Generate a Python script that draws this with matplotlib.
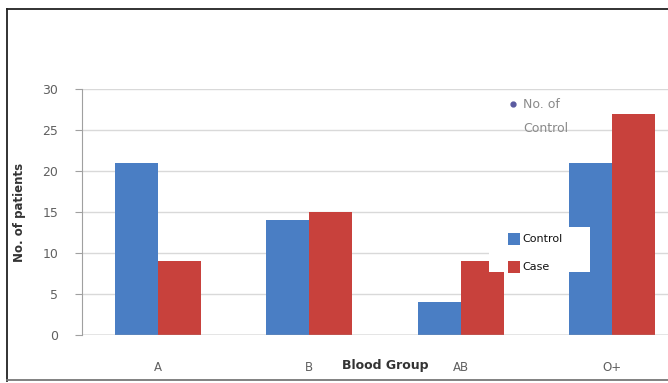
import matplotlib
matplotlib.use("Agg")
import matplotlib.pyplot as plt
import numpy as np
from matplotlib.lines import Line2D
from matplotlib.patches import Rectangle

groups = ["A", "B", "AB", "O+"]
control = [21, 14, 4, 21]
case = [9, 15, 9, 27]
yticks = [0, 5, 10, 15, 20, 25, 30]

BLUE = "#4A7EC4"
RED = "#C8413C"

W, H = 668, 383
fig = plt.figure(figsize=(W / 100, H / 100), dpi=100)
fig.patch.set_facecolor("white")


def fx(px):
    return px / W


def fy(py):
    return 1 - py / H


ax = fig.add_axes([fx(82), fy(335), (688 - 82) / W, (335 - 89) / H])
x = np.arange(len(groups))
bw = 0.285
ax.bar(x - bw / 2, control, bw, color=BLUE, label="Control", zorder=3)
ax.bar(x + bw / 2, case, bw, color=RED, label="Case", zorder=3)

ax.set_xlim(-0.5, 3.5)
ax.set_ylim(0, 30)
ax.set_yticks(yticks)
ax.yaxis.grid(True, color="#d9d9d9", linewidth=1.0, zorder=0)
for s in ["top", "right", "bottom"]:
    ax.spines[s].set_visible(False)
ax.spines["left"].set_color("#a0a0a0")
ax.axhline(0, color="#a0a0a0", linewidth=1.0, zorder=4)
ax.tick_params(axis="y", colors="#a0a0a0", labelcolor="#606060", labelsize=9, length=5, pad=12)
ax.tick_params(axis="x", length=0, labelcolor="#606060", labelsize=8.5, pad=19)
ax.set_xticks(x)
ax.set_xticklabels(groups)

ax.set_ylabel("No. of patients", fontsize=8.5, fontweight="bold", color="#333333", labelpad=12)
fig.text(fx(385), fy(366), "Blood Group", ha="center", va="center",
         fontsize=9, fontweight="bold", color="#333333")

# faint stray series label
fig.text(fx(523), fy(104), "No. of", ha="left", va="center", fontsize=9, color="#8a8a8a")
fig.text(fx(523), fy(129), "Control", ha="left", va="center", fontsize=9, color="#8a8a8a")
fig.add_artist(Line2D([fx(513)], [fy(104)], marker="o", markersize=3.5,
                      color="#5a5aa0", linestyle="none"))

# legend box
fig.add_artist(Rectangle((fx(489), fy(272)), (590 - 489) / W, (272 - 227) / H,
                         transform=fig.transFigure, facecolor="white", edgecolor="none", zorder=5))
for ypx, col, lab in [(239, BLUE, "Control"), (267, RED, "Case")]:
    fig.add_artist(Rectangle((fx(508), fy(ypx + 6)), 12 / W, 12 / H,
                             transform=fig.transFigure, facecolor=col, edgecolor="none", zorder=6))
    fig.text(fx(522), fy(ypx), lab, ha="left", va="center", fontsize=8, color="#111111", zorder=7)

# outer frame
fig.add_artist(Line2D([fx(7), fx(7)], [fy(9), fy(381)], color="#222222", linewidth=1.3))
fig.add_artist(Line2D([fx(7), 1], [fy(9), fy(9)], color="#222222", linewidth=1.3))
fig.add_artist(Line2D([fx(7), 1], [fy(380), fy(380)], color="#777777", linewidth=1.3))

fig.savefig("out.png", dpi=100)
